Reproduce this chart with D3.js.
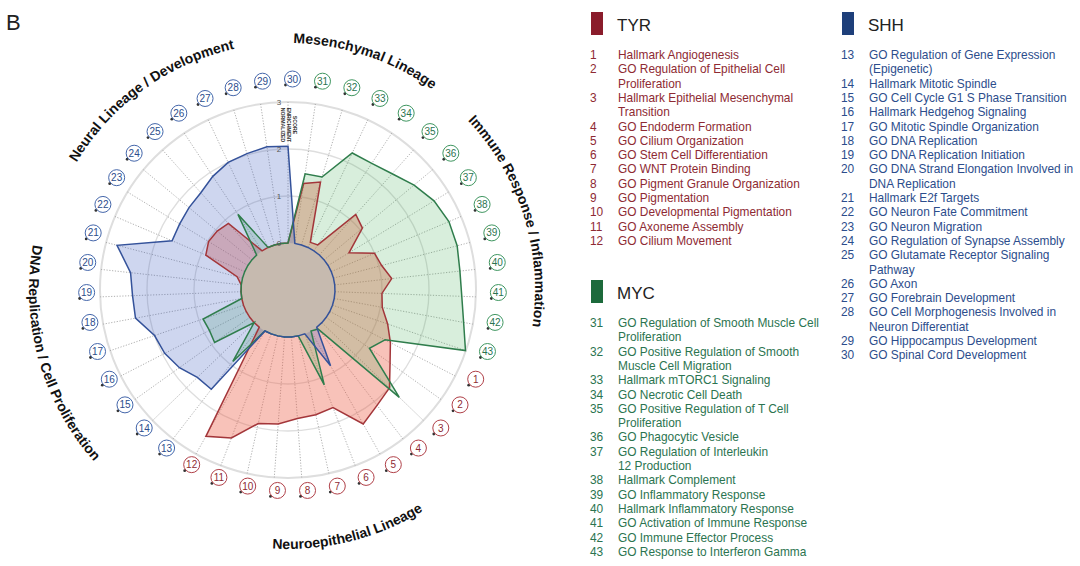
<!DOCTYPE html>
<html><head><meta charset="utf-8">
<script src="https://cdn.jsdelivr.net/npm/d3@7"></script>
<style>body{margin:0;background:#fff;} svg{display:block;font-family:"Liberation Sans",Arial,Helvetica,sans-serif;}</style>
</head><body><svg id="c" width="1080" height="566"></svg>
<script>
// ---------------- DATA ----------------
const itemIds = d3.range(1, 44);
// normalized enrichment score per item (index 0 = item 1)
const tyrValues = [1.45,1.67,2.0,2.1,2.27,1.68,1.72,1.74,1.86,1.91,2.37,2.57,
  0,0,0,0,0,0,0,0,0.12,0.9,0.98,0.96,0.9,0,0,0,0,0,
  1.29,1.4,0.12,0.15,1.16,1.06,0.52,1.0,1.06,1.22,1.0,1.04,1.24];
const mycValues = [1.32,1.13,2.29,0.05,0,1.16,0,0,0,0,0,0,
  0.92,0,0.92,0.88,0.91,0,0,0,0,0,0,0,0,0.93,0,0,0,0,
  1.5,1.51,2.22,2.23,2.32,2.49,2.64,2.72,2.72,2.68,2.7,2.8,2.99];
const shhValues = [0,0,0,0,0.85,0,0,0,0,0,0,0,
  1.67,1.68,1.84,1.95,2.0,2.3,2.31,2.37,2.76,1.68,1.70,1.74,1.78,1.9,2.0,2.03,2.08,2.06,
  0,0,0,0,0,0,0,0,0,0,0,0,0];
const scaleTicks = [0, 1, 2, 3];
const axisTitle = ["NORMALIZED", "ENRICHMENT", "SCORE"];
const sectionNames = ["Mesenchymal Lineage", "Immune Response / Inflammation", "Neuroepithelial Lineage",
  "DNA Replication / Cell Proliferation", "Neural Lineage / Development"];
const groupNames = ["TYR", "SHH", "MYC"];
const tyrItems = [1,2,3,4,5,6,7,8,9,10,11,12];
const shhItems = [13,14,15,16,17,18,19,20,21,22,23,24,25,26,27,28,29,30];
const mycItems = [31,32,33,34,35,36,37,38,39,40,41,42,43];
const tyrPathways = ["Hallmark Angiogenesis","GO Regulation of Epithelial Cell\nProliferation",
  "Hallmark Epithelial Mesenchymal\nTransition","GO Endoderm Formation","GO Cilium Organization",
  "GO Stem Cell Differentiation","GO WNT Protein Binding","GO Pigment Granule Organization",
  "GO Pigmentation","GO Developmental Pigmentation","GO Axoneme Assembly","GO Cilium Movement"];
const shhPathways = ["GO Regulation of Gene Expression\n(Epigenetic)","Hallmark Mitotic Spindle",
  "GO Cell Cycle G1 S Phase Transition","Hallmark Hedgehog Signaling","GO Mitotic Spindle Organization",
  "GO DNA Replication","GO DNA Replication Initiation","GO DNA Strand Elongation Involved in\nDNA Replication",
  "Hallmark E2f Targets","GO Neuron Fate Commitment","GO Neuron Migration","GO Regulation of Synapse Assembly",
  "GO Glutamate Receptor Signaling\nPathway","GO Axon","GO Forebrain Development",
  "GO Cell Morphogenesis Involved in\nNeuron Differentiat","GO Hippocampus Development","GO Spinal Cord Development"];
const mycPathways = ["GO Regulation of Smooth Muscle Cell\nProliferation",
  "GO Positive Regulation of Smooth\nMuscle Cell Migration","Hallmark mTORC1 Signaling","GO Necrotic Cell Death",
  "GO Positive Regulation of T Cell\nProliferation","GO Phagocytic Vesicle","GO Regulation of Interleukin\n12 Production",
  "Hallmark Complement","GO Inflammatory Response","Hallmark Inflammatory Response",
  "GO Activation of Immune Response","GO Immune Effector Process","GO Response to Interferon Gamma"];

// ---------------- STYLE ----------------
const sty = {
  TYR: {fill:"rgb(235,85,60)", op:0.36, stroke:"#a3363a", text:"#8e2a33", swatch:"#8a1c2b", ring:"#b04048"},
  MYC: {fill:"rgb(60,170,80)", op:0.2, stroke:"#2f7d4c", text:"#2b7450", swatch:"#1c6a3b", ring:"#3f9660"},
  SHH: {fill:"rgb(60,90,190)", op:0.25, stroke:"#34529a", text:"#2c4d8c", swatch:"#1e3f7a", ring:"#4466aa"}
};
const cx = 288, cy = 290;          // radar centre
const lx = 285.5, ly = 291, lr = 206; // item label ring
const svg = d3.select("#c");
const rScale = d3.scaleLinear().domain([0, 3]).range([47, 188]);
const aScale = d3.scaleLinear().domain([0, 43]).range([0, 2 * Math.PI]);
const ang = i => aScale((i - 30 + 43) % 43);
const pt = (a, r, x0 = cx, y0 = cy) => [x0 + r * Math.sin(a), y0 - r * Math.cos(a)];
const groupOf = i => tyrItems.includes(i) ? "TYR" : shhItems.includes(i) ? "SHH" : "MYC";

const g = svg.append("g");
// grid circles
g.selectAll("circle.grid").data(scaleTicks.slice(1)).join("circle")
  .attr("cx", cx).attr("cy", cy).attr("r", d => rScale(d))
  .attr("fill", "none").attr("stroke", "#dedede").attr("stroke-width", d => d === 3 ? 2 : 1.3);
// spokes
g.selectAll("line.spoke").data(itemIds).join("line")
  .attr("x1", d => pt(ang(d), rScale(0))[0]).attr("y1", d => pt(ang(d), rScale(0))[1])
  .attr("x2", d => pt(ang(d), rScale(3))[0]).attr("y2", d => pt(ang(d), rScale(3))[1])
  .attr("stroke", "#9a9a9a").attr("stroke-width", 0.8).attr("stroke-dasharray", "1.2,1.6");

// series polygons: fills, centre disc, then outlines
const radial = d3.lineRadial().angle(d => ang(d.i)).radius(d => rScale(d.v)).curve(d3.curveLinearClosed);
const series = [["TYR", tyrValues], ["MYC", mycValues], ["SHH", shhValues]];
const shapes = series.map(([name, vals]) => [name, radial(itemIds.map((i, k) => ({i, v: vals[k]})))]);
shapes.forEach(([name, d]) => {
  g.append("path").attr("transform", `translate(${cx},${cy})`).attr("d", d)
    .attr("fill", sty[name].fill).attr("fill-opacity", sty[name].op).attr("stroke", "none");
});
g.append("circle").attr("cx", cx).attr("cy", cy).attr("r", rScale(0)).attr("fill", "#c6baaf");
shapes.forEach(([name, d]) => {
  g.append("path").attr("transform", `translate(${cx},${cy})`).attr("d", d)
    .attr("fill", "none").attr("stroke", sty[name].stroke).attr("stroke-width", 1.5);
});

// tick labels
g.selectAll("text.tick").data(scaleTicks).join("text")
  .attr("x", cx - 9).attr("y", d => cy - rScale(d) + 3)
  .attr("text-anchor", "middle").attr("font-size", 8).attr("fill", "#555").text(d => d);
// axis title (vertical)
axisTitle.forEach((t, k) => {
  const x = [281, 286.5, 293][k], y = 125;
  g.append("text").attr("x", x).attr("y", y).attr("transform", `rotate(90,${x},${y})`)
    .attr("text-anchor", "middle").attr("font-size", 5.2).attr("font-weight", "bold").attr("fill", "#333").text(t);
});

// item labels
const lab = g.selectAll("g.lab").data(itemIds).join("g");
lab.append("circle").attr("cx", d => pt(ang(d), lr, lx, ly)[0]).attr("cy", d => pt(ang(d), lr, lx, ly)[1])
  .attr("r", 1.4).attr("fill", "#333");
lab.append("circle").attr("cx", d => pt(ang(d), lr, lx, ly)[0] + 7).attr("cy", d => pt(ang(d), lr, lx, ly)[1] - 6)
  .attr("r", 8).attr("fill", "#fff").attr("stroke", d => sty[groupOf(d)].ring).attr("stroke-width", 1);
lab.append("text").attr("x", d => pt(ang(d), lr, lx, ly)[0] + 7).attr("y", d => pt(ang(d), lr, lx, ly)[1] - 2.4)
  .attr("text-anchor", "middle").attr("font-size", 10).attr("fill", d => sty[groupOf(d)].text).text(d => d);

// section titles on arcs
const deg = Math.PI / 180;
const secGeom = [[18.5, 247, 1], [72.6, 247, 1], [166, 259, 0], [254.3, 259, 0], [324.3, 247, 1]];
const defs = svg.append("defs");
sectionNames.forEach((name, k) => {
  const [c, rad, cw] = secGeom[k];
  const a0 = cw ? c - 80 : c + 80, a1 = cw ? c + 80 : c - 80;
  const p0 = pt(a0 * deg, rad), p1 = pt(a1 * deg, rad);
  defs.append("path").attr("id", "sec" + k)
    .attr("d", `M${p0[0]},${p0[1]}A${rad},${rad} 0 0 ${cw} ${p1[0]},${p1[1]}`);
  svg.append("text").attr("font-size", 14).attr("font-weight", "bold").attr("fill", "#111")
    .append("textPath").attr("href", "#sec" + k).attr("startOffset", "50%").attr("text-anchor", "middle").text(name);
});

// panel letter
svg.append("text").attr("x", 6).attr("y", 30).attr("font-size", 22).attr("fill", "#222").text("B");

// legends
const lineH = 14.3;
function legend(name, items, names, x, y0) {
  const s = sty[name];
  svg.append("rect").attr("x", x + 1).attr("y", y0).attr("width", 12).attr("height", 23).attr("fill", s.swatch);
  svg.append("text").attr("x", x + 27).attr("y", y0 + 19).attr("font-size", 17).attr("fill", "#222").text(name);
  let y = y0 + 43 + 4;
  items.forEach((id, k) => {
    svg.append("text").attr("x", x).attr("y", y).attr("font-size", 11.9).attr("fill", s.text).text(id);
    names[k].split("\n").forEach((ln, j) => {
      svg.append("text").attr("x", x + 28).attr("y", y).attr("font-size", 11.9).attr("fill", s.text).text(ln);
      y += lineH;
    });
  });
}
legend("TYR", tyrItems, tyrPathways, 590, 12);
legend("SHH", shhItems, shhPathways, 841, 12);
legend("MYC", mycItems, mycPathways, 590, 280);
</script></body></html>
